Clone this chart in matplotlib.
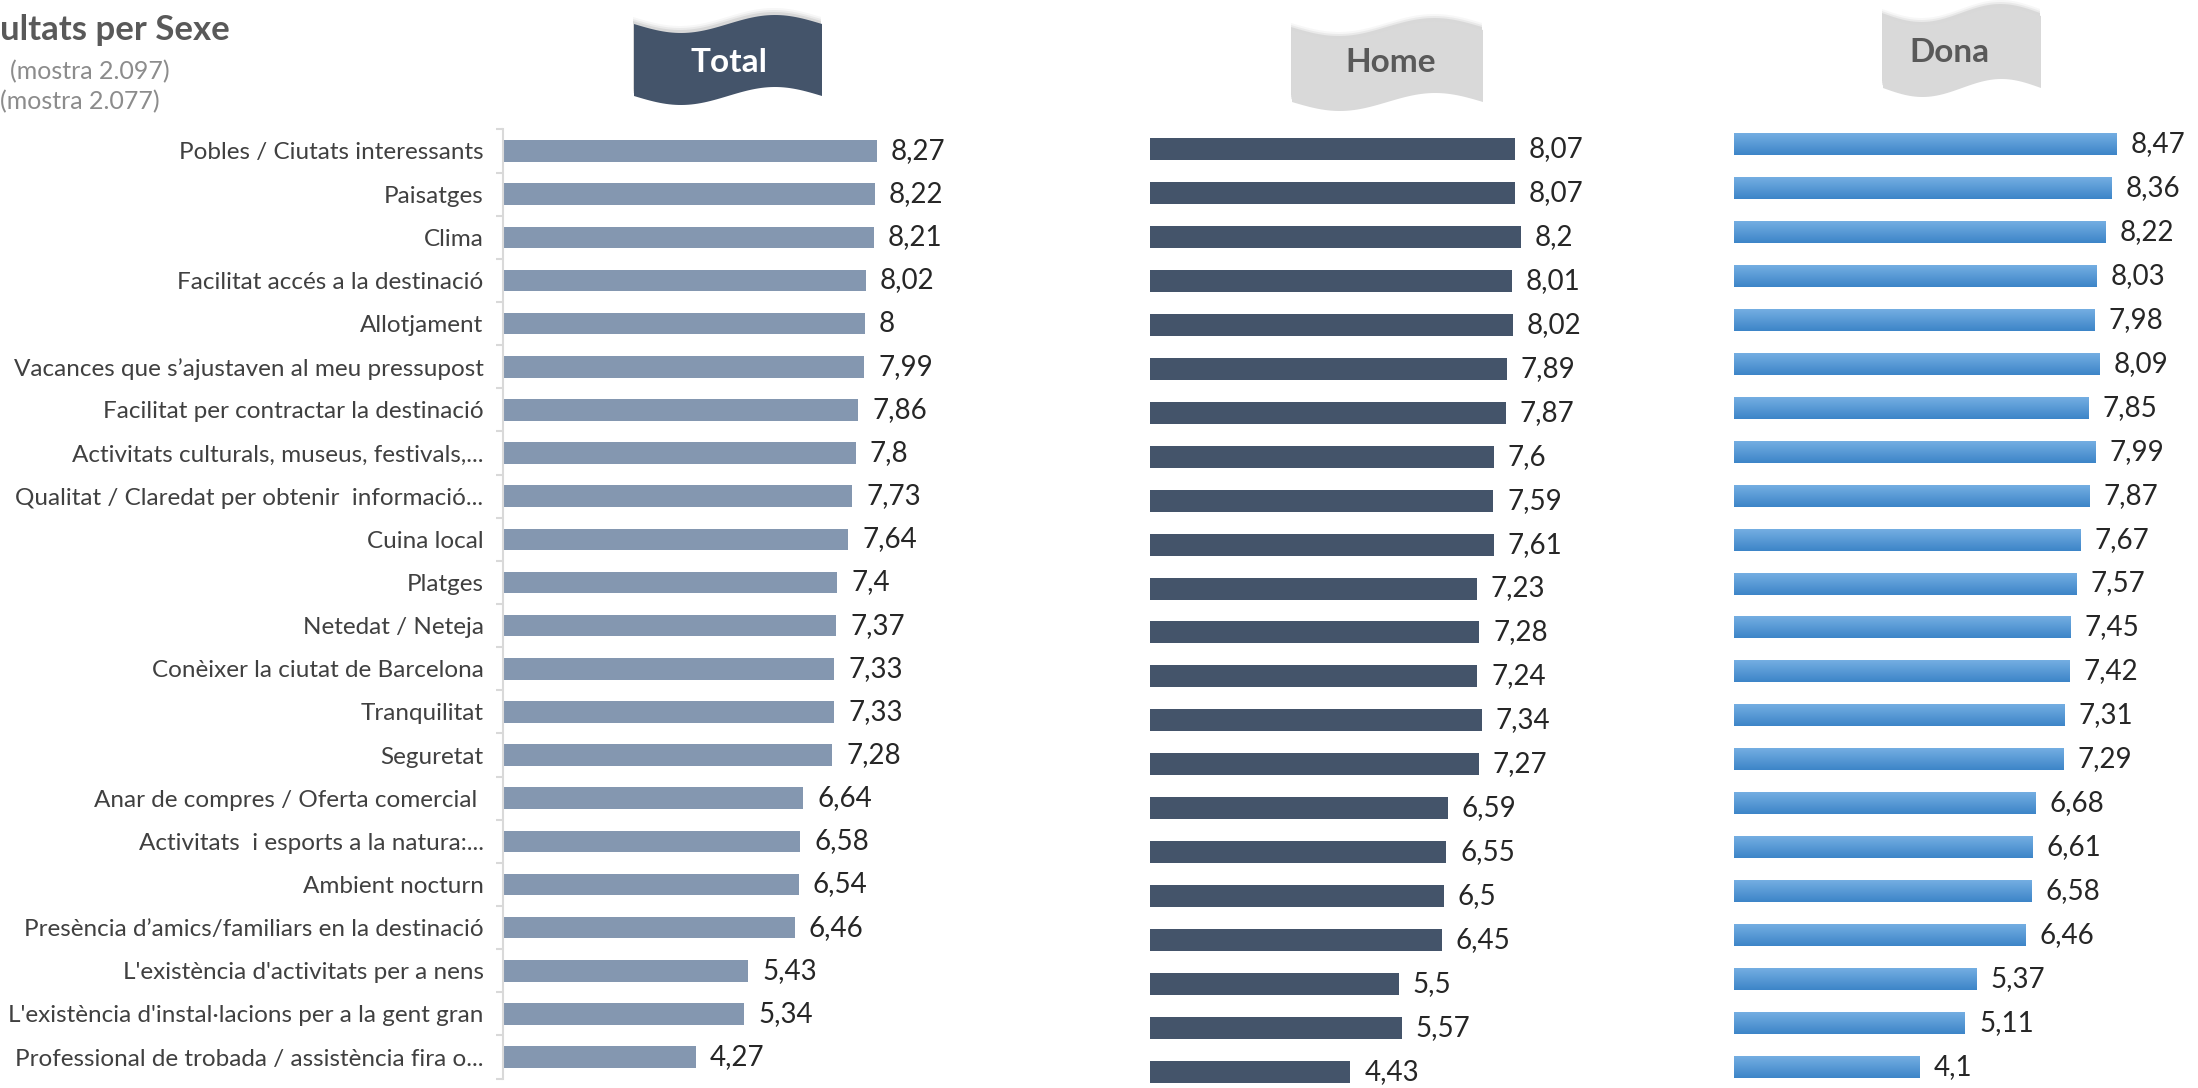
import numpy as np
import matplotlib
matplotlib.use("Agg")
import matplotlib.pyplot as plt
from matplotlib.patches import Polygon
from matplotlib.colors import LinearSegmentedColormap

plt.rcParams["font.family"] = ["Lato", "DejaVu Sans"]

# ---- data -------------------------------------------------------------
categories = [
    "Pobles / Ciutats interessants",
    "Paisatges",
    "Clima",
    "Facilitat accés a la destinació",
    "Allotjament",
    "Vacances que s\u2019ajustaven al meu pressupost",
    "Facilitat per contractar la destinació",
    "Activitats culturals, museus, festivals,...",
    "Qualitat / Claredat per obtenir  informació...",
    "Cuina local",
    "Platges",
    "Netedat / Neteja",
    "Conèixer la ciutat de Barcelona",
    "Tranquilitat",
    "Seguretat",
    "Anar de compres / Oferta comercial ",
    "Activitats  i esports a la natura:...",
    "Ambient nocturn",
    "Presència d\u2019amics/familiars en la destinació",
    "L'existència d'activitats per a nens",
    "L'existència d'instal\u00b7lacions per a la gent gran",
    "Professional de trobada / assistència fira o...",
]
total = [8.27, 8.22, 8.21, 8.02, 8, 7.99, 7.86, 7.8, 7.73, 7.64, 7.4,
         7.37, 7.33, 7.33, 7.28, 6.64, 6.58, 6.54, 6.46, 5.43, 5.34, 4.27]
home = [8.07, 8.07, 8.2, 8.01, 8.02, 7.89, 7.87, 7.6, 7.59, 7.61, 7.23,
        7.28, 7.24, 7.34, 7.27, 6.59, 6.55, 6.5, 6.45, 5.5, 5.57, 4.43]
dona = [8.47, 8.36, 8.22, 8.03, 7.98, 8.09, 7.85, 7.99, 7.87, 7.67, 7.57,
        7.45, 7.42, 7.31, 7.29, 6.68, 6.61, 6.58, 6.46, 5.37, 5.11, 4.1]
panel_titles = ["Total", "Home", "Dona"]
sample_notes = ["(mostra 2.097)", "(mostra 2.077)"]

W, H = 2198, 1088
fig = plt.figure(figsize=(W / 100, H / 100), dpi=100)

# background axes in pixel coordinates (title + banners)
bg = fig.add_axes([0, 0, 1, 1])
bg.set_xlim(0, W)
bg.set_ylim(H, 0)
bg.axis("off")


def px_axes(left, top, width, height):
    return fig.add_axes([left / W, 1 - (top + height) / H, width / W, height / H])


def fmt(v):
    return f"{v:g}".replace(".", ",")


def banner(x0, x1, ytop, ybot, face, text, tcolor, tx, ty):
    amp = 9
    t = np.linspace(0, 1, 60)
    xs = x0 + t * (x1 - x0)
    top = ytop + amp * np.sin(2 * np.pi * t)
    bot = ybot + amp * np.sin(2 * np.pi * t)
    pts = np.vstack([np.column_stack([xs, top]),
                     np.column_stack([xs[::-1], bot[::-1]])])
    # soft shadow
    for k, a in [(7, 0.06), (5, 0.10), (3, 0.16)]:
        sh = pts + np.array([-1, -k])
        bg.add_patch(Polygon(sh, closed=True, facecolor="#7f7f7f",
                             edgecolor="none", alpha=a))
    bg.add_patch(Polygon(pts, closed=True, facecolor=face, edgecolor="none"))
    bg.text(tx, ty, text, ha="center", va="center", fontsize=24,
            fontweight="bold", color=tcolor)


banner(634, 822, 24, 96, "#44546A", panel_titles[0], "white", 729, 62)
banner(1292, 1483, 30, 102, "#D9D9D9", panel_titles[1], "#595959", 1391, 62)
banner(1883, 2041, 16, 88, "#D9D9D9", panel_titles[2], "#595959", 1949, 53)

bg.text(0, 30, "ultats per Sexe", ha="left", va="center", fontsize=25,
        fontweight="bold", color="#595959")
bg.text(10, 72, sample_notes[0], ha="left", va="center", fontsize=18,
        color="#8C8C8C")
bg.text(0, 102, sample_notes[1], ha="left", va="center", fontsize=18,
        color="#8C8C8C")

n = len(categories)
scale = 45.2  # pixels per unit
xmax = 10


def panel(left, first_y, last_y, values, color, gradient=False, labels=False):
    step = (last_y - first_y) / (n - 1)
    top = first_y - step / 2
    ax = px_axes(left, top, scale * xmax, step * n)
    y = np.arange(n)
    bars = ax.barh(y, values, height=0.5, color=color, edgecolor="none")
    ax.set_xlim(0, xmax)
    ax.set_ylim(n - 0.5, -0.5)
    if gradient:
        cmap = LinearSegmentedColormap.from_list("g", ["#74AEE2", "#3D85C8"])
        grad = np.linspace(0, 1, 50).reshape(-1, 1)
        for b in bars:
            bx, by, bw, bh = b.get_x(), b.get_y(), b.get_width(), b.get_height()
            im = ax.imshow(grad, extent=(bx, bx + bw, by + bh, by), aspect="auto",
                           cmap=cmap, origin="upper", zorder=3)
            im.set_clip_path(b)
        ax.set_xlim(0, xmax)
        ax.set_ylim(n - 0.5, -0.5)
    for yi, v in zip(y, values):
        ax.text(v + 14 / scale, yi, fmt(v), ha="left", va="center",
                fontsize=20, color="#262626")
    for s in ["top", "right", "bottom"]:
        ax.spines[s].set_visible(False)
    ax.set_xticks([])
    if labels:
        ax.spines["left"].set_color("#D9D9D9")
        ax.spines["left"].set_linewidth(1.5)
        ax.set_yticks(y)
        ax.set_yticklabels(categories, fontsize=17.5, color="#404040")
        ax.tick_params(axis="y", which="major", length=0, pad=14)
        ax.set_yticks(np.arange(-0.5, n, 1), minor=True)
        ax.tick_params(axis="y", which="minor", length=5, color="#D9D9D9",
                       width=1.5)
    else:
        ax.spines["left"].set_visible(False)
        ax.set_yticks([])
    ax.patch.set_alpha(0)
    return ax


panel(503, 151, 1057, total, "#8497B0", labels=True)
panel(1150, 149, 1072, home, "#44546A")
panel(1734, 144, 1067, dona, "#5B9BD5", gradient=True)

fig.savefig("out.png", dpi=100)
